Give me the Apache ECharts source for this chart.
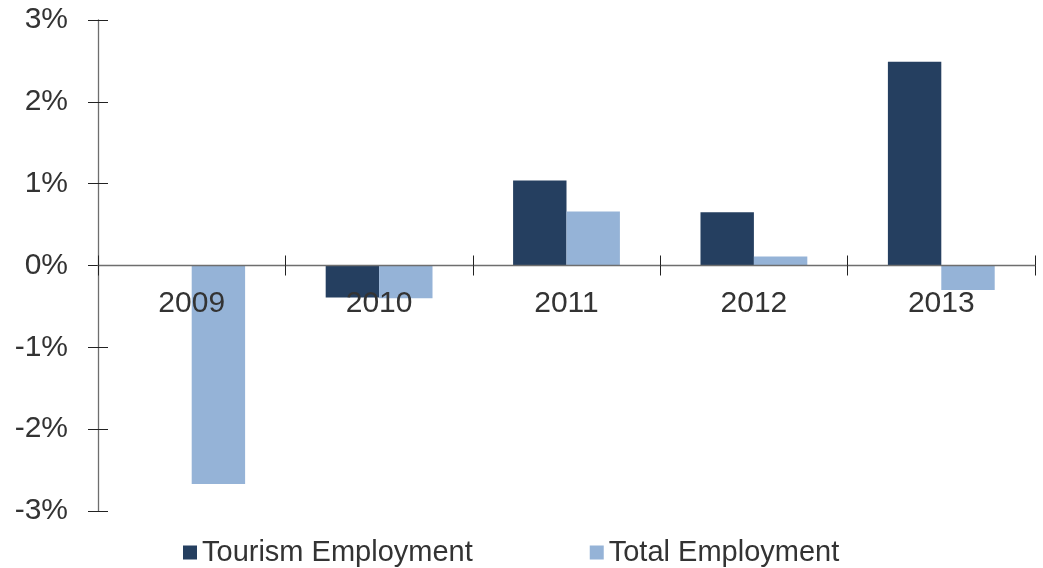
<!DOCTYPE html>
<html>
<head>
<meta charset="utf-8">
<script src="https://cdn.jsdelivr.net/npm/echarts@6/dist/echarts.min.js"></script>
<style>
  html, body { margin: 0; padding: 0; background: #fff; }
  #chart { width: 1043px; height: 568px; }
</style>
</head>
<body>
<div id="chart"></div>
<script>
// Annual employment growth, percent
const years = ['2009', '2010', '2011', '2012', '2013'];
const tourismEmployment = [0, -0.39, 1.04, 0.65, 2.49];
const totalEmployment = [-2.67, -0.40, 0.66, 0.11, -0.30];
const seriesNames = ['Tourism Employment', 'Total Employment'];

const FONT = '"Liberation Sans", Arial, sans-serif';
const TEXT = '#333333';
const AXIS = '#6e6e6e';

const chart = echarts.init(document.getElementById('chart'));

chart.setOption({
  animation: false,
  grid: { left: 98, right: 8, top: 20, bottom: 57, containLabel: false },
  legend: {
    data: seriesNames,
    left: 178,
    bottom: -4,
    icon: 'rect',
    itemWidth: 14,
    itemHeight: 14,
    itemGap: 117,
    textStyle: { fontFamily: FONT, fontSize: 29, color: TEXT }
  },
  xAxis: [
    {
      type: 'category',
      data: years,
      position: 'bottom',
      z: 10,
      axisLine: { onZero: true, onZeroAxisIndex: 0, lineStyle: { color: AXIS, width: 1.3 } },
      axisTick: { show: true, inside: false, length: 10, lineStyle: { color: '#222' } },
      axisLabel: { show: false },
      splitLine: { show: false }
    },
    {
      // upper half of the crossing category ticks
      type: 'category',
      data: years,
      position: 'top',
      z: 10,
      axisLine: { show: false, onZero: true, onZeroAxisIndex: 0 },
      axisTick: { show: true, inside: false, length: 10, lineStyle: { color: '#222' } },
      axisLabel: { show: false },
      splitLine: { show: false }
    }
  ],
  yAxis: [
    {
      type: 'value',
      min: -3,
      max: 3,
      interval: 1,
      axisLine: { show: true, lineStyle: { color: AXIS, width: 1.3 } },
      axisTick: { show: true, length: 10, lineStyle: { color: '#222' } },
      splitLine: { show: false },
      axisLabel: {
        fontFamily: FONT, fontSize: 30, color: TEXT, margin: 30,
        formatter: v => v + '%'
      }
    },
    {
      type: 'value',
      position: 'left',
      min: -3,
      max: 3,
      interval: 1,
      axisLine: { show: false, onZero: false },
      axisTick: { show: true, inside: true, length: 10, lineStyle: { color: '#222' } },
      splitLine: { show: false },
      axisLabel: { show: false }
    }
  ],
  series: [
    {
      name: seriesNames[0],
      type: 'bar',
      data: tourismEmployment,
      barGap: '0%',
      barCategoryGap: '43%',
      itemStyle: { color: '#253f60' }
    },
    {
      name: seriesNames[1],
      type: 'bar',
      data: totalEmployment,
      barGap: '0%',
      barCategoryGap: '43%',
      itemStyle: { color: '#95b3d7' }
    },
    {
      // year labels hanging just below the zero line, over the bars
      type: 'scatter',
      z: 20,
      silent: true,
      symbolSize: 0,
      itemStyle: { opacity: 1 },
      data: years.map(y => [y, 0]),
      label: {
        show: true,
        position: 'bottom',
        distance: 23,
        opacity: 1,
        fontFamily: FONT,
        fontSize: 30,
        color: TEXT,
        textBorderWidth: 0,
        formatter: p => p.value[0]
      }
    }
  ]
});
</script>
</body>
</html>
